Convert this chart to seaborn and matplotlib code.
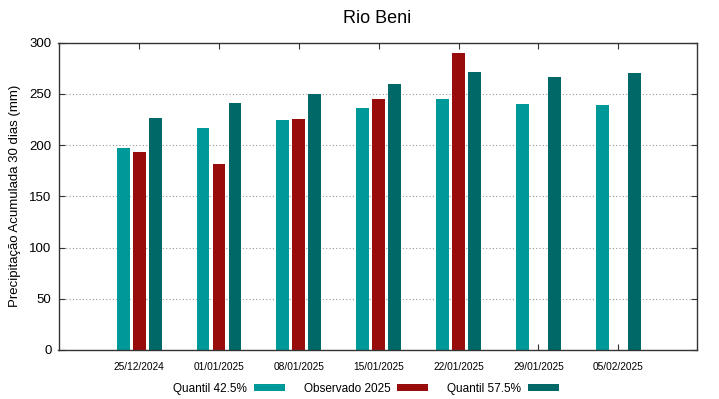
import numpy as np
import pandas as pd
import matplotlib
matplotlib.use("Agg")
import matplotlib.pyplot as plt
import seaborn as sns

dates = ["25/12/2024", "01/01/2025", "08/01/2025", "15/01/2025",
         "22/01/2025", "29/01/2025", "05/02/2025"]
q425 = [197, 217, 224, 236, 245, 240, 239]
obs2025 = [193, 181, 225, 245, 290, np.nan, np.nan]
q575 = [226, 241, 250, 260, 271, 266, 270]
series_names = ["Quantil 42.5%", "Observado 2025", "Quantil 57.5%"]
colors = ["#009999", "#990c0c", "#006866"]

sns.set_style("white")
plt.rcParams['font.family'] = ['Liberation Sans', 'DejaVu Sans']
plt.rcParams['text.color'] = 'black'
plt.rcParams['axes.labelcolor'] = 'black'
plt.rcParams['xtick.color'] = 'black'
plt.rcParams['ytick.color'] = 'black'

df = pd.DataFrame({
    "date": dates * 3,
    "value": q425 + obs2025 + q575,
    "series": [series_names[0]] * 7 + [series_names[1]] * 7 + [series_names[2]] * 7,
})

fig = plt.figure(figsize=(7.19, 3.99), dpi=100)
ax = fig.add_axes([58.5 / 719, 49 / 399, (696.5 - 58.5) / 719, (350.5 - 43) / 399])

sns.barplot(data=df, x="date", y="value", hue="series", order=dates,
            hue_order=series_names, palette=colors, saturation=1,
            width=0.6, gap=0.2, errorbar=None, linewidth=0, ax=ax, legend=True)

ax.set_xlim(-1.01, 6.98)
ax.set_ylim(0, 300)
ax.set_yticks(range(0, 301, 50))
ax.yaxis.grid(True, linestyle=(0, (1, 2)), color="#999999", linewidth=0.8)
ax.set_axisbelow(True)
for s in ax.spines.values():
    s.set_visible(True)
    s.set_color("#333333")
    s.set_linewidth(1.0)
ax.tick_params(axis="both", direction="in", length=4, color="#333333",
               top=True, right=True, bottom=True, left=True)
ax.tick_params(axis="x", labelsize=7.3, pad=9, labelcolor="black")
ax.tick_params(axis="y", labelsize=9.5, pad=5, labelcolor="black")
ax.set_xlabel("")
ax.set_ylabel("Precipitação Acumulada 30 dias (mm)", fontsize=9.5, labelpad=6,
              color="black")
ax.set_title("Rio Beni", fontsize=13, pad=14, color="black")

handles, labels = ax.get_legend_handles_labels()
leg = ax.legend(handles, labels, loc="center", bbox_to_anchor=(0.482, -0.127),
                ncol=3, frameon=False, markerfirst=False, fontsize=8.5,
                handlelength=2.63, handleheight=0.5, columnspacing=1.6,
                handletextpad=0.6)
for t in leg.get_texts():
    t.set_color("black")

fig.savefig("out.png", dpi=100)
